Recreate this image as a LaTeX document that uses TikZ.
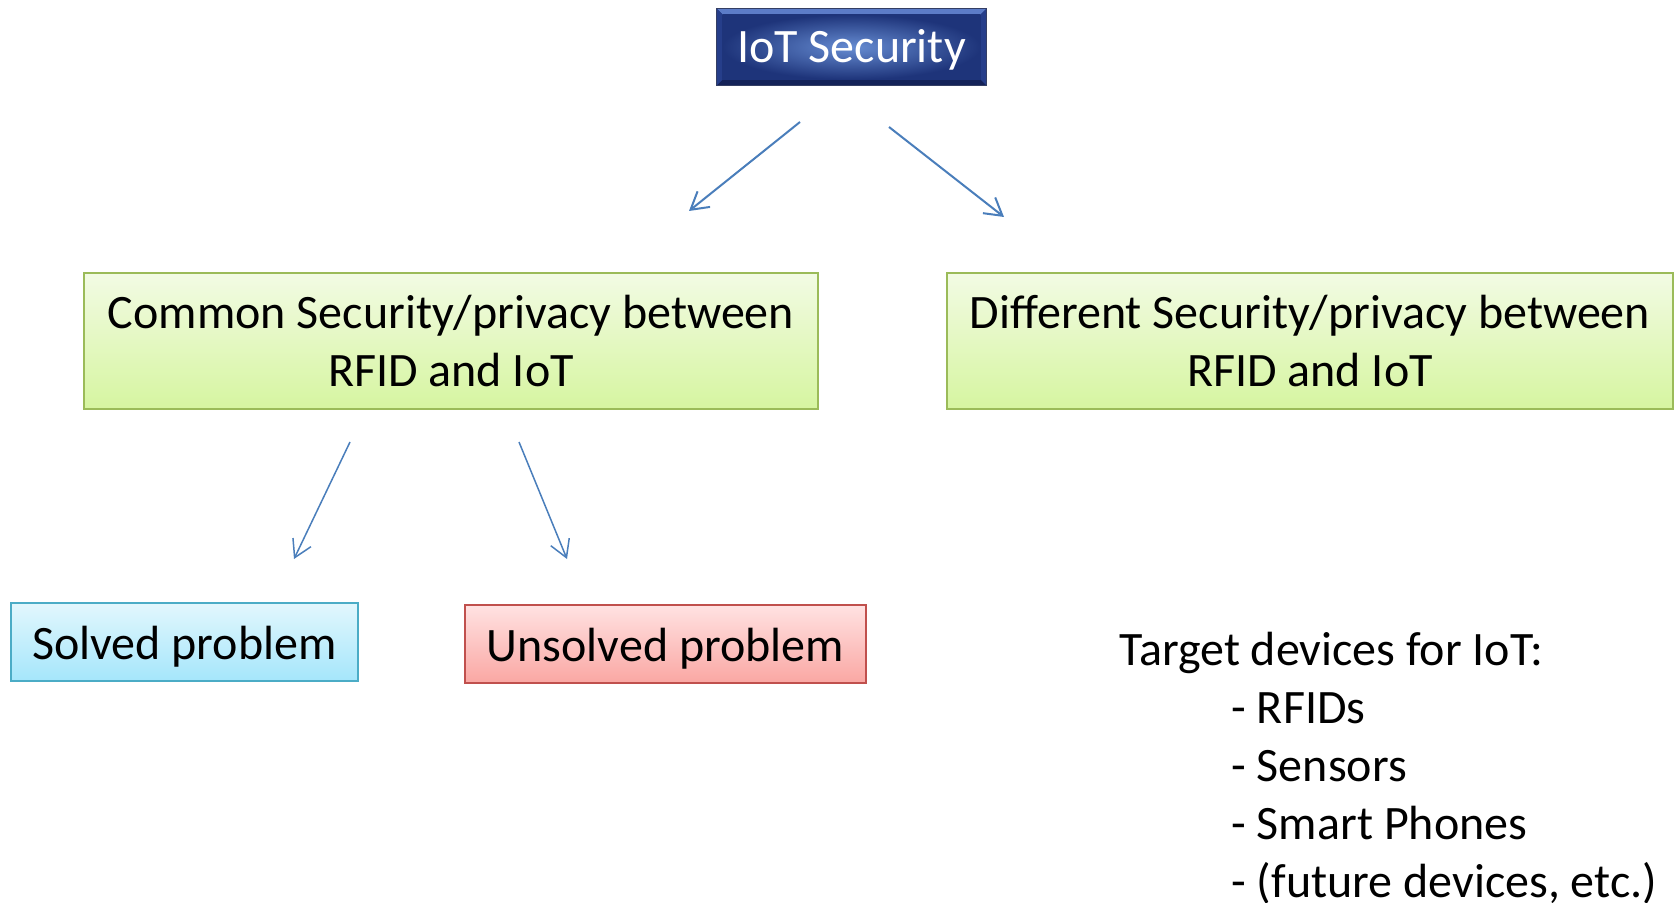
\documentclass[tikz,border=0pt]{standalone}
\usepackage{fontspec}
\setmainfont{Carlito}
\usetikzlibrary{arrows.meta,backgrounds}

\definecolor{arrowblue}{RGB}{74,126,187}
\definecolor{iotdark}{RGB}{30,52,122}
\definecolor{iotlight}{RGB}{102,140,210}
\definecolor{iotbeveltop}{RGB}{92,124,200}
\definecolor{iotbevelbot}{RGB}{20,34,88}
\definecolor{iotbevelside}{RGB}{38,62,138}
\definecolor{greenedge}{RGB}{155,187,89}
\definecolor{greentop}{RGB}{242,251,228}
\definecolor{greenbot}{RGB}{214,245,160}
\definecolor{cyanedge}{RGB}{75,172,198}
\definecolor{cyantop}{RGB}{226,247,253}
\definecolor{cyanbot}{RGB}{165,230,251}
\definecolor{rededge}{RGB}{192,80,77}
\definecolor{redtop}{RGB}{255,226,226}
\definecolor{redbot}{RGB}{250,167,163}

\tikzset{
  txt/.style={font=\fontsize{24}{29}\selectfont, inner sep=0pt},
  box/.style={txt, draw, line width=1pt, align=center},
  oneline/.style={text height=17.8pt, text depth=0pt},
  greenbox/.style={box, draw=greenedge, top color=greentop, bottom color=greenbot,
    minimum height=68pt},
  solvedbox/.style={box, oneline, draw=cyanedge, top color=cyantop, bottom color=cyanbot,
    minimum width=173.5pt, minimum height=39pt},
  unsolvedbox/.style={box, oneline, draw=rededge, top color=redtop, bottom color=redbot,
    minimum width=200.5pt, minimum height=39pt},
  iotbox/.style={txt, text=white, text height=15.8pt, text depth=0pt,
    minimum width=134.5pt, minimum height=38pt},
  conn/.style={draw=arrowblue, line width=1pt,
    -{Straight Barb[length=8.5pt,width=10pt]}},
  subconn/.style={conn, line width=0.75pt},
  listline/.style={txt, anchor=base west},
}

\begin{document}
\begin{tikzpicture}[x=0.5pt, y=-0.5pt]
\useasboundingbox (0,0) rectangle (1674,903);

% top title box with bevelled frame
\node[iotbox] (iot) at (851.5,47) {IoT Security};
\begin{scope}[on background layer]
  \fill[iotdark] (iot.north west) rectangle (iot.south east);
  \coordinate (inw) at ([shift={(3pt,-3pt)}]iot.north west);
  \coordinate (ine) at ([shift={(-3pt,-3pt)}]iot.north east);
  \coordinate (isw) at ([shift={(3pt,3pt)}]iot.south west);
  \coordinate (ise) at ([shift={(-3pt,3pt)}]iot.south east);
  \fill[iotbeveltop] (iot.north west) -- (iot.north east) -- (ine) -- (inw) -- cycle;
  \fill[iotbevelbot] (iot.south west) -- (iot.south east) -- (ise) -- (isw) -- cycle;
  \fill[iotbevelside] (iot.north west) -- (inw) -- (isw) -- (iot.south west) -- cycle;
  \fill[iotbevelside] (iot.north east) -- (ine) -- (ise) -- (iot.south east) -- cycle;
  \shade[inner color=iotlight, outer color=iotdark] (inw) rectangle (ise);
  \draw[iotbevelbot!70!gray, line width=0.5pt] (iot.north west) rectangle (iot.south east);
\end{scope}

% second level
\node[greenbox, minimum width=367pt] (common) at (451,341)
  {Common Security/privacy between\\RFID and IoT};
\node[greenbox, minimum width=363pt] (different) at (1310,341)
  {Different Security/privacy between\\RFID and IoT};

% third level
\node[solvedbox] (solved) at (184.5,642) {Solved problem};
\node[unsolvedbox] (unsolved) at (665.5,644) {Unsolved problem};

% free-standing arrows
\coordinate (l1s) at (800,122);  \coordinate (l1e) at (689,211);
\coordinate (r1s) at (889,127);  \coordinate (r1e) at (1004,217);
\coordinate (l2s) at (350,442);  \coordinate (l2e) at (294,559);
\coordinate (r2s) at (519,442);  \coordinate (r2e) at (567,559);
\draw[conn] (l1s) -- (l1e);
\draw[conn] (r1s) -- (r1e);
\draw[subconn] (l2s) -- (l2e);
\draw[subconn] (r2s) -- (r2e);

% device list
\node[listline] (t0) at (1119,665) {Target devices for IoT:};
\node[listline] (t1) at (1231,723) {- RFIDs};
\node[listline] (t2) at (1231,781) {- Sensors};
\node[listline] (t3) at (1231,839) {- Smart Phones};
\node[listline] (t4) at (1231,897) {- (future devices, etc.)};
\end{tikzpicture}
\end{document}
